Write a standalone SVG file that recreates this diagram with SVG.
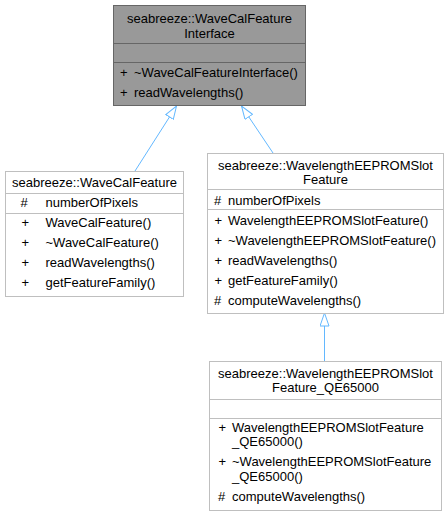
<svg xmlns="http://www.w3.org/2000/svg" width="448" height="516" viewBox="0 0 448 516">
<style>
text{font-family:"Liberation Sans",Arial,sans-serif;font-size:13px;fill:#000}
.c{text-anchor:middle}
.box{fill:#fff;stroke:#bfbfbf;stroke-width:1}
.top{fill:#999999;stroke:#666666;stroke-width:1}
.sepw{stroke:#bfbfbf;stroke-width:1}
.sepg{stroke:#666666;stroke-width:1}
.edge{fill:none;stroke:#63b8ff;stroke-width:1}
</style>
<defs>
<marker id="tri" viewBox="0 0 14 10" markerWidth="14" markerHeight="10" refX="13.5" refY="5" orient="auto" markerUnits="userSpaceOnUse">
<path d="M0.5,0.5 L13.5,5 L0.5,9.5 Z" fill="#fff" stroke="#63b8ff" stroke-width="1"/>
</marker>
</defs>
<g id="connectors">
<line class="edge" x1="135" y1="171" x2="176.5" y2="106" marker-end="url(#tri)"/>
<line class="edge" x1="273" y1="153" x2="241.5" y2="106" marker-end="url(#tri)"/>
<line class="edge" x1="324.5" y1="361" x2="324.5" y2="313" marker-end="url(#tri)"/>
</g>
<g id="node-WaveCalFeatureInterface">
<rect class="top" x="113.5" y="5.5" width="192" height="100"/>
<line class="sepg" x1="113.5" y1="43.5" x2="305.5" y2="43.5"/>
<line class="sepg" x1="113.5" y1="62.5" x2="305.5" y2="62.5"/>
<text class="c" x="209.5" y="23">seabreeze::WaveCalFeature</text>
<text class="c" x="209.5" y="37.5">Interface</text>
<text x="120" y="76.5">+</text><text x="134" y="76.5">~WaveCalFeatureInterface()</text>
<text x="120" y="96.5">+</text><text x="134" y="96.5">readWavelengths()</text>
</g>
<g id="node-WaveCalFeature">
<rect class="box" x="5.5" y="171.5" width="178" height="125"/>
<line class="sepw" x1="5.5" y1="193.5" x2="183.5" y2="193.5"/>
<line class="sepw" x1="5.5" y1="213.5" x2="183.5" y2="213.5"/>
<text class="c" x="94.5" y="187">seabreeze::WaveCalFeature</text>
<text x="20.5" y="207">#</text><text x="45.5" y="207">numberOfPixels</text>
<text x="21.5" y="227">+</text><text x="45.5" y="227">WaveCalFeature()</text>
<text x="21.5" y="247">+</text><text x="45.5" y="247">~WaveCalFeature()</text>
<text x="21.5" y="267">+</text><text x="45.5" y="267">readWavelengths()</text>
<text x="21.5" y="287">+</text><text x="45.5" y="287">getFeatureFamily()</text>
</g>
<g id="node-WavelengthEEPROMSlotFeature">
<rect class="box" x="207.5" y="153.5" width="236" height="160"/>
<line class="sepw" x1="207.5" y1="189.5" x2="443.5" y2="189.5"/>
<line class="sepw" x1="207.5" y1="209.5" x2="443.5" y2="209.5"/>
<text class="c" x="325.5" y="169.5">seabreeze::WavelengthEEPROMSlot</text>
<text class="c" x="325.5" y="184">Feature</text>
<text x="214" y="204.5">#</text><text x="228" y="204.5">numberOfPixels</text>
<text x="214.5" y="224.5">+</text><text x="228" y="224.5">WavelengthEEPROMSlotFeature()</text>
<text x="214.5" y="244.5">+</text><text x="228" y="244.5">~WavelengthEEPROMSlotFeature()</text>
<text x="214.5" y="264.5">+</text><text x="228" y="264.5">readWavelengths()</text>
<text x="214.5" y="284.5">+</text><text x="228" y="284.5">getFeatureFamily()</text>
<text x="214" y="304.5">#</text><text x="228" y="304.5">computeWavelengths()</text>
</g>
<g id="node-WavelengthEEPROMSlotFeature_QE65000">
<rect class="box" x="209.5" y="361.5" width="232" height="149"/>
<line class="sepw" x1="209.5" y1="399.5" x2="441.5" y2="399.5"/>
<line class="sepw" x1="209.5" y1="418.5" x2="441.5" y2="418.5"/>
<text class="c" x="325.5" y="377.5">seabreeze::WavelengthEEPROMSlot</text>
<text class="c" x="325.5" y="392">Feature_QE65000</text>
<text x="218.5" y="431.5">+</text><text x="232" y="431.5">WavelengthEEPROMSlotFeature</text>
<text x="232" y="446">_QE65000()</text>
<text x="218.5" y="466">+</text><text x="232" y="466">~WavelengthEEPROMSlotFeature</text>
<text x="232" y="480.5">_QE65000()</text>
<text x="218" y="500.5">#</text><text x="232" y="500.5">computeWavelengths()</text>
</g>
</svg>
